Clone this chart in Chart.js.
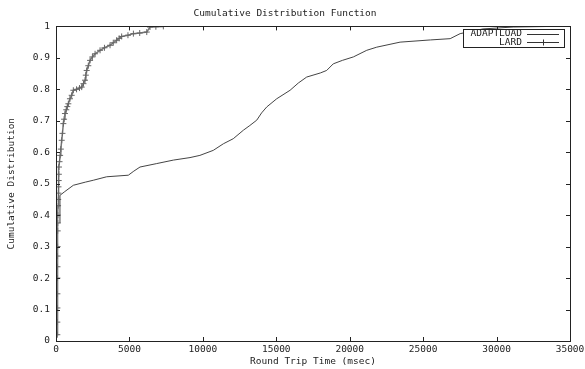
<!DOCTYPE html>
<html>
<head>
<meta charset="utf-8">
<script src="https://cdn.jsdelivr.net/npm/chart.js@4"></script>
<style>
html,body{margin:0;padding:0;background:#fff;}
#wrap{width:585px;height:369px;}
</style>
</head>
<body>
<div id="wrap"><canvas id="c" width="585" height="369"></canvas></div>
<script>
const chartTitle = "Cumulative Distribution Function";
const xTitle = "Round Trip Time (msec)";
const yTitle = "Cumulative Distribution";
const seriesNames = ["ADAPTLOAD", "LARD"];

const adaptX = [270, 270, 600, 1180, 2000, 2540, 3450, 4925, 5300, 5720, 6860, 7990, 9125, 9800, 10710, 11400, 12070, 12760, 13200, 13670, 14000, 14350, 15030, 15940, 16500, 17070, 18000, 18430, 18880, 19500, 20250, 21160, 21840, 23430, 25500, 26840, 27520, 29080, 31130, 33850];
const adaptY = [0.375, 0.463, 0.475, 0.495, 0.505, 0.511, 0.522, 0.527, 0.54, 0.553, 0.564, 0.575, 0.583, 0.59, 0.606, 0.627, 0.643, 0.670, 0.685, 0.702, 0.725, 0.744, 0.770, 0.797, 0.82, 0.839, 0.852, 0.860, 0.881, 0.892, 0.903, 0.924, 0.934, 0.950, 0.957, 0.961, 0.977, 0.992, 0.998, 1.0];

const lardX = [90, 90, 95, 95, 100, 100, 105, 110, 115, 120, 130, 140, 150, 160, 170, 185, 195, 204, 240, 280, 330, 390, 440, 500, 550, 610, 700, 770, 840, 950, 1070, 1180, 1400, 1600, 1750, 1870, 1975, 2030, 2090, 2200, 2320, 2480, 2660, 3000, 3300, 3680, 3900, 4130, 4300, 4470, 4900, 5270, 5700, 6180, 6400, 6800, 7310];
const lardY = [0.02, 0.06, 0.105, 0.15, 0.2, 0.236, 0.27, 0.30, 0.35, 0.375, 0.40, 0.43, 0.45, 0.47, 0.49, 0.51, 0.53, 0.553, 0.57, 0.59, 0.61, 0.638, 0.66, 0.691, 0.705, 0.723, 0.735, 0.745, 0.754, 0.770, 0.781, 0.797, 0.800, 0.804, 0.807, 0.818, 0.829, 0.845, 0.86, 0.875, 0.892, 0.903, 0.913, 0.924, 0.932, 0.940, 0.948, 0.956, 0.962, 0.968, 0.972, 0.977, 0.979, 0.982, 0.998, 0.999, 1.0];

const xMin = 0, xMax = 35000, xStep = 5000;
const yMin = 0, yMax = 1, yStep = 0.1;

const FONT = "'DejaVu Sans Mono', 'Liberation Mono', monospace";
const FS = 9.5;

function pts(xs, ys){ return xs.map((x,i)=>({x:x, y:ys[i]})); }

const framePlugin = {
  id: 'frame',
  afterDatasetsDraw(chart){
    const ctx = chart.ctx, a = chart.chartArea;
    const xs = chart.scales.x, ys = chart.scales.y;
    ctx.save();
    ctx.strokeStyle = '#222';
    ctx.lineWidth = 1;
    ctx.strokeRect(Math.round(a.left)+0.5, Math.round(a.top)+0.5, Math.round(a.right-a.left), Math.round(a.bottom-a.top));
    const L = 4;
    ctx.beginPath();
    xs.ticks.forEach(t=>{
      const px = Math.round(xs.getPixelForValue(t.value))+0.5;
      ctx.moveTo(px, a.bottom); ctx.lineTo(px, a.bottom-L);
      ctx.moveTo(px, a.top); ctx.lineTo(px, a.top+L);
    });
    ys.ticks.forEach(t=>{
      const py = Math.round(ys.getPixelForValue(t.value))+0.5;
      ctx.moveTo(a.left, py); ctx.lineTo(a.left+L, py);
      ctx.moveTo(a.right, py); ctx.lineTo(a.right-L, py);
    });
    ctx.stroke();
    ctx.restore();
  }
};

const legendPlugin = {
  id: 'gpLegend',
  afterDraw(chart){
    const ctx = chart.ctx, a = chart.chartArea;
    const right = a.right - 6, top = a.top + 3, w = 101, h = 18;
    ctx.save();
    ctx.fillStyle = '#fff';
    ctx.fillRect(right-w, top, w, h);
    ctx.strokeStyle = '#222';
    ctx.lineWidth = 1;
    ctx.strokeRect(Math.round(right-w)+0.5, Math.round(top)+0.5, w, h);
    ctx.font = FS + 'px ' + FONT;
    ctx.textAlign = 'right';
    ctx.textBaseline = 'middle';
    chart.data.datasets.forEach((ds,i)=>{
      const cy = top + 4.5 + i*8.5;
      ctx.fillStyle = '#222';
      ctx.fillText(ds.label, right-42, cy);
      ctx.strokeStyle = '#333';
      ctx.beginPath();
      const yy = Math.round(cy)+0.5;
      ctx.moveTo(right-37, yy); ctx.lineTo(right-5, yy);
      if (ds.pointStyle === 'cross') {
        const mx = Math.round(right-21)+0.5;
        ctx.moveTo(mx, yy-3); ctx.lineTo(mx, yy+3);
      }
      ctx.stroke();
    });
    ctx.restore();
  }
};

new Chart(document.getElementById('c'), {
  type: 'line',
  data: {
    datasets: [
      {
        label: seriesNames[0],
        data: pts(adaptX, adaptY),
        borderColor: '#444',
        borderWidth: 1,
        pointRadius: 0,
        fill: false,
        tension: 0
      },
      {
        label: seriesNames[1],
        data: pts(lardX, lardY),
        borderColor: '#777',
        borderWidth: 1.5,
        pointStyle: 'cross',
        pointRadius: 3,
        pointBorderColor: '#666',
        pointBorderWidth: 1,
        fill: false,
        tension: 0
      }
    ]
  },
  options: {
    responsive: false,
    animation: false,
    devicePixelRatio: 1,
    layout: { padding: { left: 0, right: 15, top: 0, bottom: 0 } },
    plugins: {
      legend: { display: false },
      tooltip: { enabled: false },
      title: {
        display: true,
        text: chartTitle,
        color: '#222',
        font: { family: FONT, size: FS, weight: 'normal' },
        padding: { top: 8, bottom: 7 }
      }
    },
    scales: {
      x: {
        type: 'linear',
        min: xMin, max: xMax,
        ticks: { stepSize: xStep, color: '#222', font: { family: FONT, size: FS }, padding: 3, maxRotation: 0,
                 callback: v => String(v) },
        grid: { display: false, drawTicks: false },
        border: { display: false },
        title: { display: true, text: xTitle, color: '#222', font: { family: FONT, size: FS }, padding: { top: 0, bottom: 2 } },
        afterFit(s){ s.height = 28; s.paddingLeft = 0; s.paddingRight = 0; }
      },
      y: {
        type: 'linear',
        min: yMin, max: yMax,
        ticks: { stepSize: yStep, color: '#222', font: { family: FONT, size: FS }, padding: 6,
                 callback: v => String(Math.round(v*10)/10) },
        grid: { display: false, drawTicks: false },
        border: { display: false },
        title: { display: true, text: yTitle, color: '#222', font: { family: FONT, size: FS }, padding: { top: 6, bottom: 0 } },
        afterFit(s){ s.width = 56; s.paddingTop = 0; s.paddingBottom = 0; }
      }
    }
  },
  plugins: [framePlugin, legendPlugin]
});
</script>
</body>
</html>
